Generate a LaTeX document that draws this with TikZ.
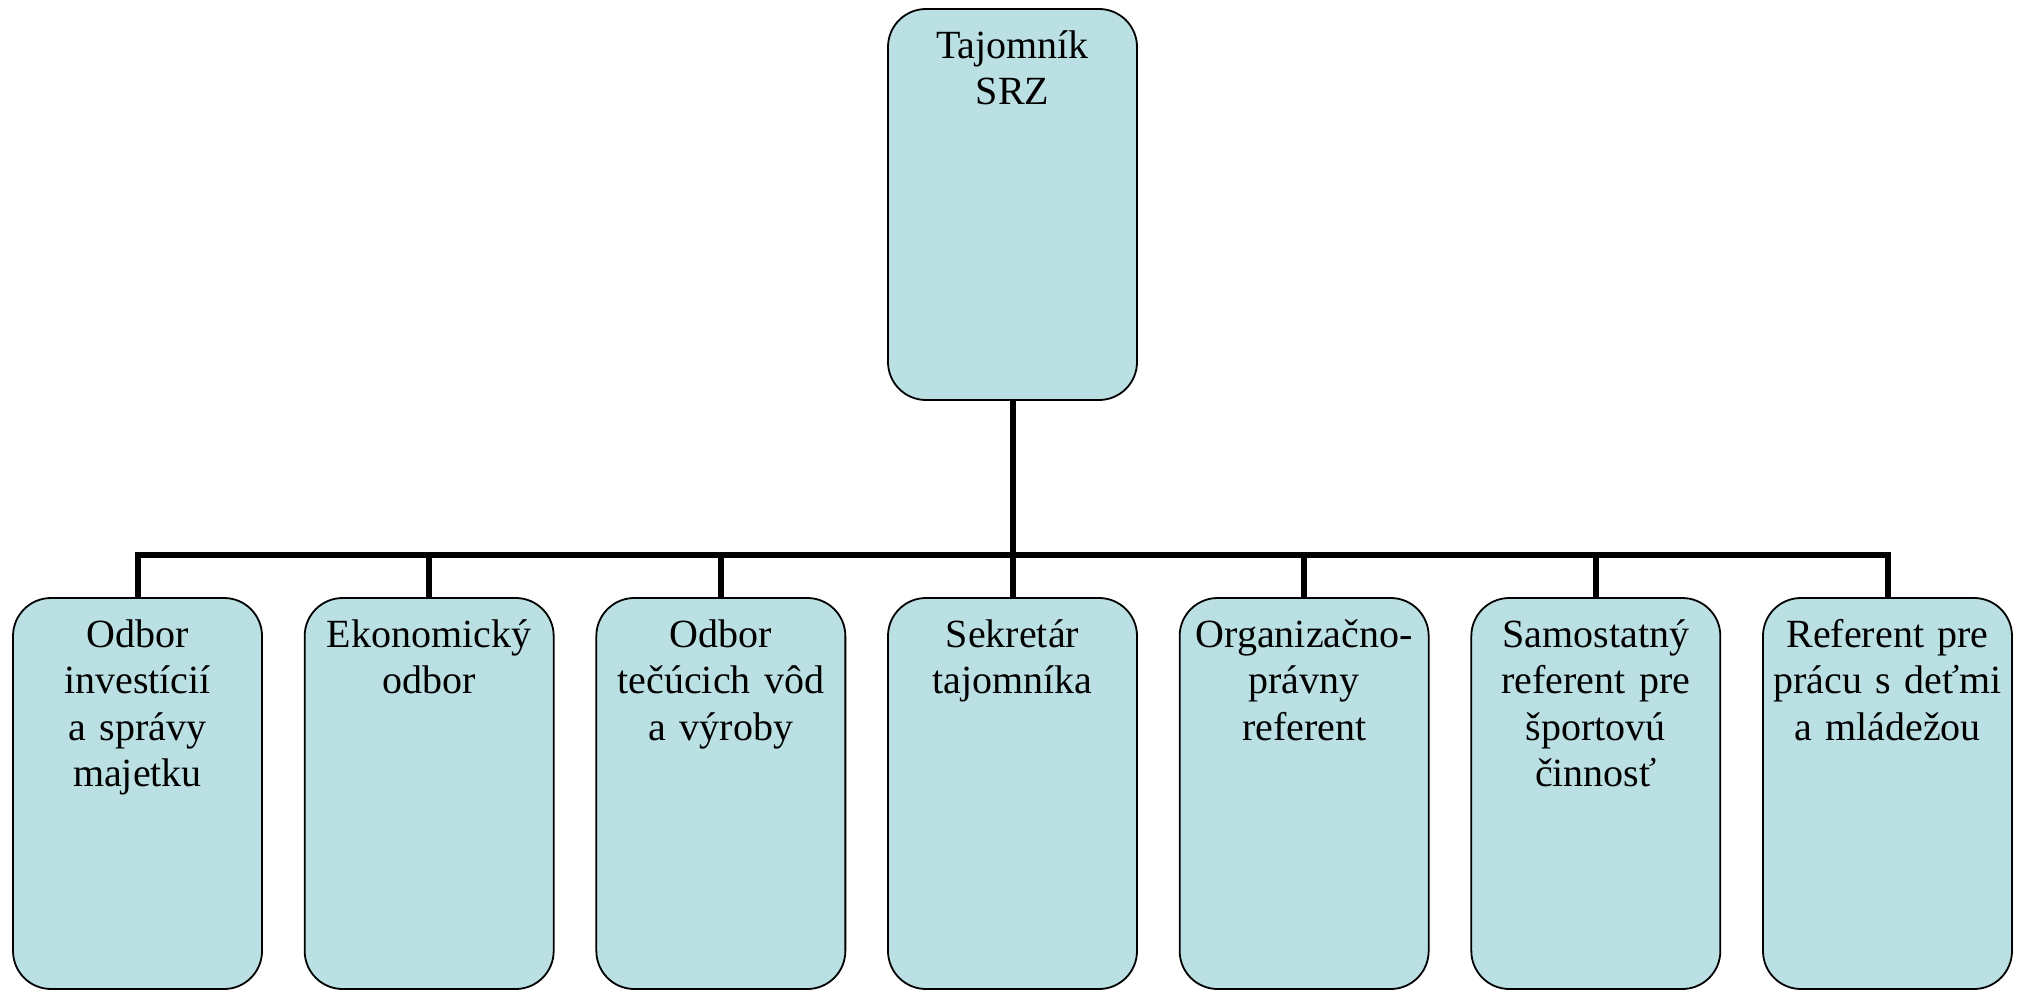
\documentclass[tikz,border=0pt]{standalone}
\usepackage{fontspec}
\setmainfont{Liberation Serif}
\usepackage{tikz}
\usetikzlibrary{positioning}
\definecolor{unitblue}{RGB}{186,224,227}

\begin{document}
\begin{tikzpicture}[node distance=21.33pt,
                    unit/.style={draw,line width=0.9pt,fill=unitblue,rounded corners=19pt,
                      outer sep=0pt,inner xsep=2pt,inner ysep=0pt,
                      minimum width=124.5pt,text width=120pt,align=center,
                      text height=24.7pt,text depth=170.8pt,
                      font=\fontsize{20}{23.25}\selectfont},
                    link/.style={line width=3pt}]

      \useasboundingbox (0,0) rectangle (1012pt,-495pt);

      \node[unit] (boss) at (506.25pt,-102.25pt) {Tajomník\\SRZ};
      \node[unit] (u4) [below=99pt of boss] {Sekretár\\tajomníka};
      \node[unit] (u3) [left=of u4] {Odbor\\tečúcich vôd\\a výroby};
      \node[unit] (u2) [left=of u3] {Ekonomický\\odbor};
      \node[unit] (u1) [left=of u2] {Odbor\\investícií\\a správy\\majetku};
      \node[unit] (u5) [right=of u4] {Organizačno-\\právny\\referent};
      \node[unit] (u6) [right=of u5] {Samostatný\\referent pre\\športovú\\činnosť};
      \node[unit] (u7) [right=of u6] {Referent pre\\prácu s deťmi\\a mládežou};

      \coordinate[below=77.5pt of boss.south] (bar);

      \draw[link] (boss.south) -- (bar);
      \draw[link] (u1.north) |- (bar);
      \draw[link] (u2.north) |- (bar);
      \draw[link] (u3.north) |- (bar);
      \draw[link] (u4.north) -- (bar);
      \draw[link] (u5.north) |- (bar);
      \draw[link] (u6.north) |- (bar);
      \draw[link] (u7.north) |- (bar);

    \end{tikzpicture}
\end{document}
